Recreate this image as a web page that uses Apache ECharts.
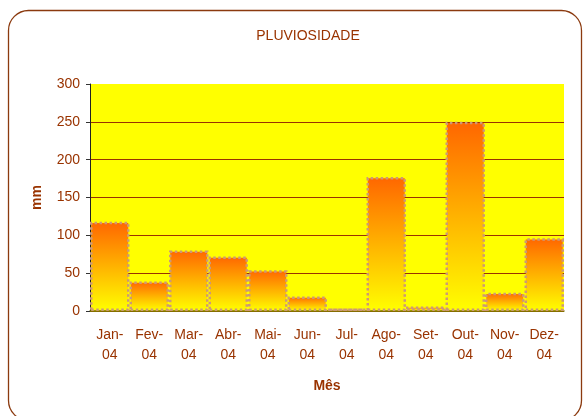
<!DOCTYPE html>
<html>
<head>
<meta charset="utf-8">
<script src="https://cdn.jsdelivr.net/npm/echarts@6/dist/echarts.min.js"></script>
<style>
  html, body { margin: 0; padding: 0; background: #fff; }
  #chart { width: 584px; height: 416px; }
</style>
</head>
<body>
<div id="chart"></div>
<script>
// dados de pluviosidade 2004
const meses = ['Jan-\n04', 'Fev-\n04', 'Mar-\n04', 'Abr-\n04', 'Mai-\n04', 'Jun-\n04',
  'Jul-\n04', 'Ago-\n04', 'Set-\n04', 'Out-\n04', 'Nov-\n04', 'Dez-\n04']
const chuva = [118, 39, 80, 72, 54, 19, 3, 177, 6, 250, 24, 96]
const yTicks = [0, 50, 100, 150, 200, 250, 300]

const brown = '#993300'
const font = 'Liberation Sans, Arial, sans-serif'

const chart = echarts.init(document.getElementById('chart'))
chart.setOption({
  animation: false,
  title: {
    text: 'PLUVIOSIDADE',
    left: 303,
    top: 24,
    textAlign: 'center',
    textStyle: { color: brown, fontSize: 14, fontWeight: 'normal', fontFamily: font }
  },
  graphic: [{
    type: 'rect',
    shape: { x: 8.5, y: 10.5, width: 573, height: 410, r: 20 },
    style: { fill: null, stroke: '#8B3A0F', lineWidth: 1.3 },
    z: 100
  }],
  grid: {
    left: 90,
    right: 20,
    top: 84,
    bottom: 105,
    backgroundColor: '#FFFF00',
    show: true,
    borderWidth: 0
  },
  xAxis: {
    type: 'category',
    data: meses,
    name: 'Mês',
    nameLocation: 'middle',
    nameGap: 68,
    nameTextStyle: { color: brown, fontSize: 14, fontWeight: 'bold', fontFamily: font },
    axisLine: { lineStyle: { color: '#808000', width: 1.5 } },
    axisTick: { length: 4, lineStyle: { color: '#333' } },
    axisLabel: { color: brown, fontSize: 14, fontFamily: font, lineHeight: 20, margin: 14, interval: 0 }
  },
  yAxis: {
    type: 'value',
    min: yTicks[0],
    max: yTicks[yTicks.length - 1],
    interval: 50,
    name: 'mm',
    nameLocation: 'middle',
    nameGap: 46,
    nameTextStyle: { color: brown, fontSize: 14, fontWeight: 'bold', fontFamily: font },
    axisLine: { show: true, lineStyle: { color: '#222' } },
    axisTick: { show: true, length: 4, lineStyle: { color: '#333' } },
    axisLabel: { color: brown, fontSize: 14, fontFamily: font, margin: 10 },
    splitLine: {
      lineStyle: { color: '#993300', width: 1.2 },
      showMaxLine: false
    }
  },
  series: [{
    name: 'Pluviosidade',
    type: 'bar',
    data: chuva,
    barCategoryGap: '0%',
    itemStyle: {
      color: new echarts.graphic.LinearGradient(0, 0, 0, 1, [
        { offset: 0, color: '#FF6600' },
        { offset: 1, color: '#FFFF00' }
      ]),
      borderColor: '#CC9977',
      borderWidth: 2.5,
      borderType: 'dotted'
    }
  }]
})
</script>
</body>
</html>
